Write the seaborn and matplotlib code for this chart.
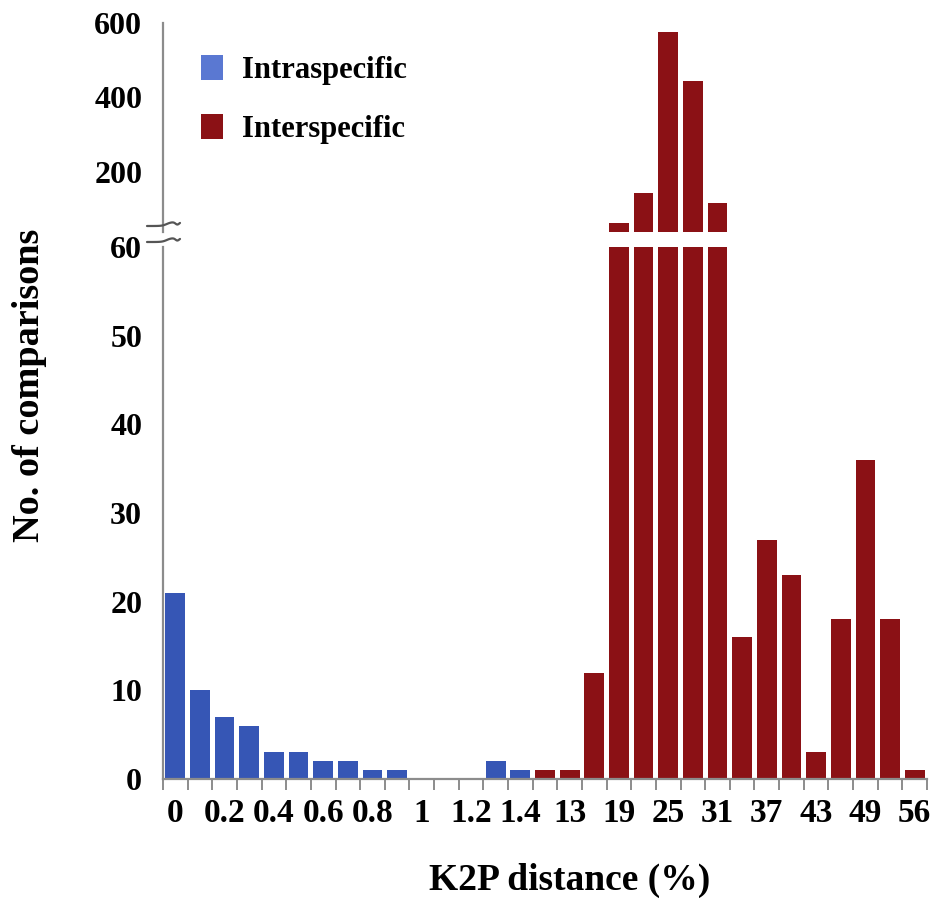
import numpy as np
import pandas as pd
import matplotlib
matplotlib.use("Agg")
import matplotlib.pyplot as plt
from matplotlib.lines import Line2D
from matplotlib.patches import Patch
import seaborn as sns

# ---- data ----
categories = ["0", "0.1", "0.2", "0.3", "0.4", "0.5", "0.6", "0.7", "0.8", "0.9",
              "1", "1.1", "1.2", "1.3", "1.4", "1.5", "13", "16", "19", "22",
              "25", "28", "31", "34", "37", "40", "43", "46", "49", "52", "56"]
counts = [21, 10, 7, 6, 3, 3, 2, 2, 1, 1,
          0, 0, 0, 2, 1, 1, 1, 12, 62, 144,
          576, 443, 115, 16, 27, 23, 3, 18, 36, 18, 1]
groups = ["Intraspecific"] * 15 + ["Interspecific"] * 16
tick_labels = ["0", "0.2", "0.4", "0.6", "0.8", "1", "1.2", "1.4",
               "13", "19", "25", "31", "37", "43", "49", "56"]
lower_yticks = [0, 10, 20, 30, 40, 50, 60]
upper_yticks = [200, 400, 600]

df = pd.DataFrame({"cat": categories, "count": counts, "group": groups})

sns.set_theme(style="white")
plt.rcParams["font.family"] = ["Liberation Serif", "DejaVu Serif"]
plt.rcParams["font.weight"] = "bold"
plt.rcParams["text.color"] = "black"
plt.rcParams["xtick.labelcolor"] = "black"
plt.rcParams["ytick.labelcolor"] = "black"

W, H = 933, 902
fig = plt.figure(figsize=(W / 100, H / 100), dpi=100)

def fx(px):
    return px / W

def fy(py):
    return 1 - py / H

left, right = 163, 927
ax_lo = fig.add_axes([fx(left), fy(779), fx(right - left), fy(247) - fy(779)])
ax_hi = fig.add_axes([fx(left), fy(232), fx(right - left), fy(22.7) - fy(232)])

palette = {"Intraspecific": "#3656B5", "Interspecific": "#8B1115"}
for ax in (ax_lo, ax_hi):
    sns.barplot(data=df, x="cat", y="count", hue="group", palette=palette,
                dodge=False, width=0.8, order=categories, legend=False, ax=ax,
                saturation=1, linewidth=0)
    ax.set_xlim(-0.5, len(categories) - 0.5)
    ax.set_xlabel("")
    ax.set_ylabel("")
    for s in ("top", "right"):
        ax.spines[s].set_visible(False)
    ax.spines["left"].set_color("#8c8c8c")
    ax.spines["left"].set_linewidth(1.6)
    ax.tick_params(axis="y", which="major", direction="out", length=8,
                   width=1.4, color="#8c8c8c", labelsize=23, pad=7,
                   labelcolor="black")

ax_lo.set_ylim(0, 60)
ax_lo.set_yticks(lower_yticks)
ax_lo.spines["bottom"].set_color("#8c8c8c")
ax_lo.spines["bottom"].set_linewidth(1.6)
label_pos = list(range(0, 15, 2)) + list(range(16, 31, 2))
ax_lo.set_xticks(label_pos)
ax_lo.set_xticklabels(tick_labels)
ax_lo.set_xticks(np.arange(-0.5, len(categories), 1.0), minor=True)
ax_lo.tick_params(axis="x", which="major", length=0, labelsize=24, pad=14,
                  labelcolor="black")
ax_lo.tick_params(axis="x", which="minor", direction="out", length=8,
                  width=1.4, color="#8c8c8c")
ax_lo.tick_params(axis="x", which="minor", bottom=True)
for t in ax_lo.get_xticklabels() + ax_lo.get_yticklabels():
    t.set_fontweight("bold")

ax_hi.set_ylim(38, 600)
ax_hi.set_yticks(upper_yticks)
ax_hi.spines["bottom"].set_visible(False)
ax_hi.set_xticks([])
for t in ax_hi.get_yticklabels():
    t.set_fontweight("bold")

# axis break marks
for ybase in (224, 240):
    xs = np.linspace(147, 180, 40)
    t = (xs - 147) / 33
    ys = ybase + 2.0 - 4.0 * (1 / (1 + np.exp(-(t - 0.6) * 14)))
    ys = ys + 2.5 * np.exp(-((t - 0.92) / 0.08) ** 2)
    fig.add_artist(Line2D(fx(xs), fy(ys), color="#555555", lw=1.6))

# legend
handles = [Patch(facecolor="#5A78D2", edgecolor="none", label="Intraspecific"),
           Patch(facecolor="#8B1115", edgecolor="none", label="Interspecific")]
fig.legend(handles=handles, loc="upper left", bbox_to_anchor=(fx(173), fy(28)),
           frameon=False, prop={"family": "Liberation Serif", "weight": "bold", "size": 22},
           handlelength=0.75, handleheight=0.85, handletextpad=0.6, labelspacing=0.95)

fig.text(fx(30), fy(385), "No. of comparisons", rotation=90, ha="center", va="center",
         fontsize=27.5, fontweight="bold", color="black")
fig.text(fx(570), fy(880), "K2P distance (%)", ha="center", va="center",
         fontsize=27, fontweight="bold", color="black")

fig.savefig("out.png", dpi=100)
